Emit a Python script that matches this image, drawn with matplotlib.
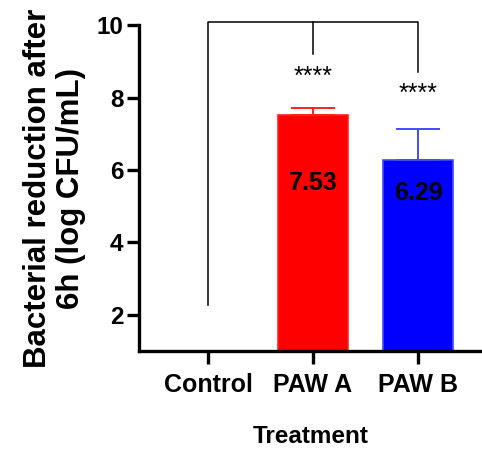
import matplotlib
matplotlib.use("Agg")
import matplotlib.pyplot as plt
import numpy as np

plt.rcParams["font.family"] = ["Liberation Sans", "DejaVu Sans"]
plt.rcParams["font.weight"] = "bold"

categories = ["Control", "PAW A", "PAW B"]
means = [0.0, 7.53, 6.29]
errors = [0.0, 0.19, 0.85]
bar_colors = ["#FFFFFF", "#FF0000", "#0000FF"]
edge_colors = ["#FFFFFF", "#FF2020", "#4848FF"]
value_labels = ["", "7.53", "6.29"]
stars = ["", "****", "****"]

fig = plt.figure(figsize=(4.82, 4.5), dpi=100)
ax = fig.add_axes([0.288, 0.22, 0.712, 0.724])

x = np.arange(len(categories))
label_y = [0, 5.63, 5.36]  # where the value text sits inside each bar
for i in range(1, len(categories)):
  ax.bar(x[i], means[i], 0.66, color=bar_colors[i], edgecolor=edge_colors[i],
         linewidth=1.2, zorder=2)
  ax.errorbar(x[i], means[i], yerr=[[0], [errors[i]]], fmt="none",
              ecolor=edge_colors[i], elinewidth=1.4, capsize=16, capthick=1.4, zorder=3)
  ax.text(x[i], label_y[i], value_labels[i], ha="center", va="center",
          fontsize=18, fontweight="bold", color="black", zorder=4)

# significance bracket
top = 10.08
ax.plot([x[0], x[0], x[2], x[2]], [2.27, top, top, 8.70], color="black",
        lw=1.1, clip_on=False, zorder=1)
ax.plot([x[1], x[1]], [top, 9.2], color="black", lw=1.1, clip_on=False, zorder=1)
ax.text(x[1], 8.58, stars[1], ha="center", va="center", fontsize=18,
        fontweight="normal")
ax.text(x[2], 8.1, stars[2], ha="center", va="center", fontsize=18,
        fontweight="normal")

ax.set_xlim(-0.66, 2.61)
ax.set_ylim(1, 10)
ax.set_yticks([2, 4, 6, 8, 10])
ax.set_xticks(x)
ax.set_xticklabels(categories, fontsize=18, fontweight="bold")
ax.tick_params(axis="y", labelsize=17.5, width=2.4, length=9, pad=2)
ax.tick_params(axis="x", width=2.4, length=9, pad=7)
for lbl in ax.get_yticklabels():
  lbl.set_fontweight("bold")

ax.spines["top"].set_visible(False)
ax.spines["right"].set_visible(False)
ax.spines["left"].set_linewidth(2.4)
ax.spines["bottom"].set_linewidth(2.4)

ax.set_ylabel("Bacterial reduction after\n6h (log CFU/mL)", fontsize=22.5,
              fontweight="bold", labelpad=8, linespacing=1.1)
ax.set_xlabel("Treatment", fontsize=17.5, fontweight="bold", labelpad=20)

fig.savefig("out.png", dpi=100, facecolor="white")
